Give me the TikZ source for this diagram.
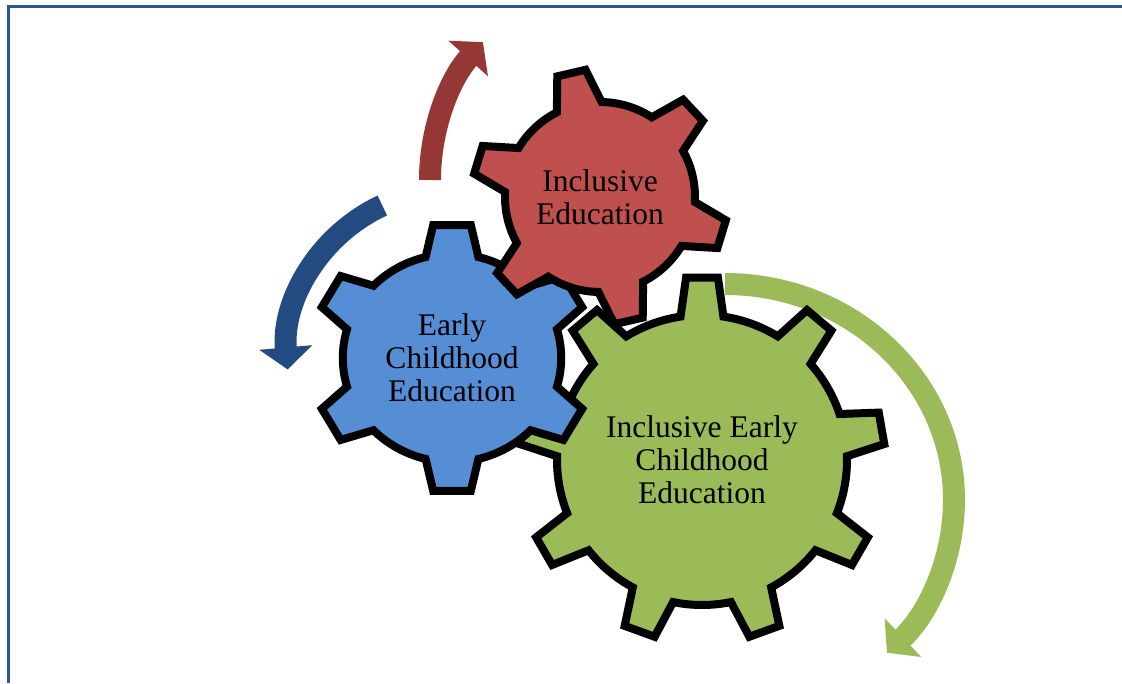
\documentclass[tikz,border=0pt]{standalone}
\usepackage{fontspec}
\setmainfont{Liberation Serif}
\usetikzlibrary{arrows.meta,calc}
\definecolor{cogred}{HTML}{C0504D}
\definecolor{cogblue}{HTML}{558ED5}
\definecolor{coggreen}{HTML}{9BBB59}
\definecolor{arrred}{HTML}{953735}
\definecolor{arrblue}{HTML}{224B82}
\definecolor{framecol}{HTML}{2C5694}
% teeth, inner radius, outer radius, first tooth angle, base half angle, tip half angle
\newcommand{\cogpath}[6]{%
  ({#4-360/#1+#5}:#2)
  \foreach \k in {1,...,#1}{
    arc[start angle={#4+(\k-2)*360/#1+#5}, end angle={#4+(\k-1)*360/#1-#5}, radius=#2]
    -- ({#4+(\k-1)*360/#1-#6}:#3) -- ({#4+(\k-1)*360/#1+#6}:#3)
    -- ({#4+(\k-1)*360/#1+#5}:#2)
  } -- cycle}
\tikzset{
  cog/.style={draw=black, line width=8pt, line join=miter},
  band/.style={line width=22pt, -{Triangle[width=52pt,length=22pt]}},
  cogtext/.style={align=center, font=\fontsize{31.5}{33}\selectfont}
}
\begin{document}
\begin{tikzpicture}[x=1pt, y=1pt]
	\useasboundingbox (0,0) rectangle (1122,683);
	\draw[framecol, line width=3pt] (8,0) |- (1122,676);
	\coordinate (ie) at (600,486);
	\coordinate (ece) at (452,325);
	\coordinate (iece) at (702,223);
	\draw[band, arrred] (430,503) arc[start angle=180, end angle=138, radius=206];
	\draw[band, arrblue] (382.3,477.5) arc[start angle=115, end angle=185, radius=165];
	\draw[band, coggreen] (725,399) arc[start angle=90, end angle=-45, x radius=229, y radius=216];
	\draw[cog, fill=coggreen, shift={(iece)}] \cogpath{9}{145}{183}{90}{8.5}{5};
	\draw[cog, fill=cogblue, shift={(ece)}, xscale=1.05] \cogpath{6}{104}{134}{90}{14}{7.7};
	\draw[cog, fill=cogred, shift={(ie)}] \cogpath{6}{95}{128}{43}{14}{6.5};
	\node[cogtext] (ie-t) at (ie) {Inclusive\\Education};
	\node[cogtext] (ece-t) at (ece) {Early\\Childhood\\Education};
	\node[cogtext] (iece-t) at (iece) {Inclusive Early\\Childhood\\Education};
\end{tikzpicture}
\end{document}
